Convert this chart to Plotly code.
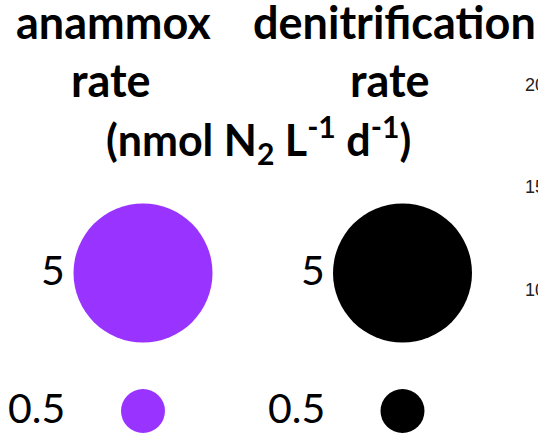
import plotly.graph_objects as go

# ---- data ----
processes = ["anammox", "denitrification"]
process_titles = ["anammox<br>rate", "denitrification<br>rate"]
units_title = "(nmol N<sub>2</sub> L<sup>-1</sup> d<sup>-1</sup>)"
legend_rates = [5, 0.5]
legend_labels = ["5", "0.5"]
process_colors = ["#9933FF", "#000000"]
partial_ticks = ["20", "15", "10"]

W, H = 538, 443
TITLE_FONT = "Lato"


def px(x):
    return x / W


def py(y):
    return 1 - y / H


fig = go.Figure()

max_diam = 139
sizeref = 2.0 * max(legend_rates) / (max_diam ** 2)
rows = list(range(len(legend_rates)))[::-1]  # 5 on top, 0.5 below

for ci, (proc, col) in enumerate(zip(processes, process_colors)):
    fig.add_trace(go.Scatter(
        x=[ci] * len(legend_rates),
        y=rows,
        mode="markers",
        name=proc,
        marker=dict(size=legend_rates, sizemode="area", sizeref=sizeref,
                    color=col, opacity=1, line=dict(width=0)),
        showlegend=False,
        hoverinfo="skip",
    ))
    for r, lab in zip(rows, legend_labels):
        fig.add_annotation(x=ci - 0.292, y=r, xref="x", yref="y", text=lab,
                           showarrow=False, xanchor="right", yanchor="middle", yshift=4,
                           font=dict(family=TITLE_FONT, size=41, color="black"))

title_centers = [113, 394]
line1 = [p.split("<br>")[0] for p in process_titles]
line2 = [p.split("<br>")[1] for p in process_titles]
line2_centers = [111, 390]
for t, cx in zip(line1, title_centers):
    fig.add_annotation(x=px(cx), y=py(22), xref="paper", yref="paper", text="<b>%s</b>" % t,
                       showarrow=False, xanchor="center", yanchor="middle",
                       font=dict(family=TITLE_FONT, size=45, color="black"))
for t, cx in zip(line2, line2_centers):
    fig.add_annotation(x=px(cx), y=py(80), xref="paper", yref="paper", text="<b>%s</b>" % t,
                       showarrow=False, xanchor="center", yanchor="middle",
                       font=dict(family=TITLE_FONT, size=45, color="black"))
fig.add_annotation(x=px(258), y=py(139), xref="paper", yref="paper", text="<b>%s</b>" % units_title,
                   showarrow=False, xanchor="center", yanchor="middle",
                   font=dict(family=TITLE_FONT, size=43, color="black"))

tick_y = [85, 187, 290]
for t, yy in zip(partial_ticks, tick_y):
    fig.add_annotation(x=px(523), y=py(yy), xref="paper", yref="paper", text=t,
                       showarrow=False, xanchor="left", yanchor="middle",
                       font=dict(family="Liberation Sans", size=18, color="#222222"))

c0x, c1y, c0y, ux, uy = 143, 273, 411, 259.5, 138
fig.update_xaxes(range=[-c0x / ux, (W - c0x) / ux], visible=False, fixedrange=True)
fig.update_yaxes(range=[-(H - c0y) / uy, 1 + c1y / uy], visible=False, fixedrange=True)
fig.update_layout(width=W, height=H, margin=dict(l=0, r=0, t=0, b=0),
                  paper_bgcolor="white", plot_bgcolor="white")

fig.write_html("out.html", config={"displayModeBar": False},
               post_script="document.body.style.margin='0';document.body.style.overflow='hidden';")
